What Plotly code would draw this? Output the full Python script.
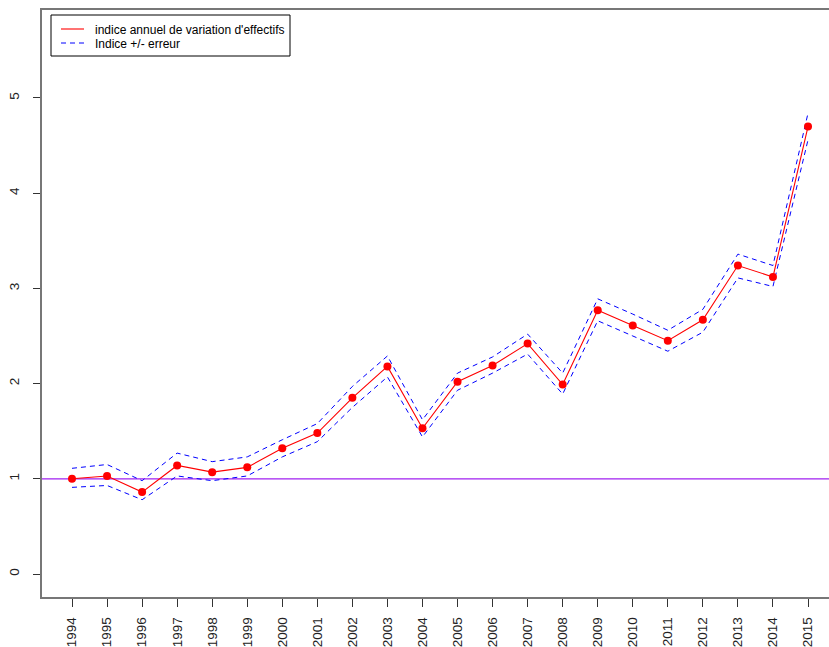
import plotly.graph_objects as go

years = list(range(1994, 2016))
indice = [1.00, 1.03, 0.86, 1.14, 1.07, 1.12, 1.32, 1.48, 1.85, 2.18, 1.53,
          2.02, 2.19, 2.42, 1.99, 2.77, 2.61, 2.45, 2.67, 3.24, 3.12, 4.70]
upper = [1.11, 1.15, 0.98, 1.27, 1.18, 1.23, 1.41, 1.58, 1.97, 2.29, 1.62,
         2.11, 2.28, 2.52, 2.11, 2.89, 2.73, 2.56, 2.78, 3.36, 3.24, 4.84]
lower = [0.91, 0.93, 0.78, 1.03, 0.98, 1.03, 1.23, 1.39, 1.75, 2.07, 1.44,
         1.93, 2.11, 2.31, 1.89, 2.66, 2.50, 2.34, 2.54, 3.11, 3.02, 4.56]
ref_level = 1
y_ticks = [0, 1, 2, 3, 4, 5]
x_labels = [str(y) for y in years]
legend_labels = ["indice annuel de variation d'effectifs", "Indice +/- erreur"]

W, H = 829, 647
ML, MR, MT, MB = 42, 0, 10, 50
PW, PH = W - ML - MR, H - MT - MB
DASH = "5px,4px"


def px(x):
    return (x - ML) / PW


def py(y):
    return 1 - (y - MT) / PH


fig = go.Figure()
fig.add_hline(y=ref_level, line=dict(color="#A020F0", width=1.2), layer="below")
fig.add_trace(go.Scatter(x=years, y=upper, mode="lines", showlegend=False,
                         line=dict(color="blue", width=1, dash=DASH)))
fig.add_trace(go.Scatter(x=years, y=lower, mode="lines", showlegend=False,
                         line=dict(color="blue", width=1, dash=DASH)))
fig.add_trace(go.Scatter(x=years, y=indice, mode="lines", showlegend=False,
                         line=dict(color="red", width=1.1)))
fig.add_trace(go.Scatter(x=years, y=indice, mode="markers", showlegend=False,
                         marker=dict(color="red", size=8)))

# manual legend (R style box)
row_y = [30, 44]
shapes = [
    dict(type="rect", xref="paper", yref="paper", x0=px(51), x1=px(290),
         y0=py(56), y1=py(15), line=dict(color="black", width=1),
         fillcolor="white"),
    dict(type="line", xref="paper", yref="paper", x0=px(61), x1=px(84),
         y0=py(row_y[0] - 1), y1=py(row_y[0] - 1),
         line=dict(color="red", width=1.1)),
    dict(type="line", xref="paper", yref="paper", x0=px(61), x1=px(84),
         y0=py(row_y[1] - 1), y1=py(row_y[1] - 1),
         line=dict(color="blue", width=1, dash=DASH)),
]
for s in shapes:
    fig.add_shape(**s)
for yy, lab in zip(row_y, legend_labels):
    fig.add_annotation(xref="paper", yref="paper", x=px(94), y=py(yy),
                       text=lab, showarrow=False, xanchor="left",
                       yanchor="middle", borderpad=0,
                       font=dict(size=12, color="black"))

fig.update_layout(
    width=W, height=H,
    margin=dict(l=ML, r=MR, t=MT, b=MB, autoexpand=False),
    plot_bgcolor="white", paper_bgcolor="white",
    font=dict(family="Liberation Sans, Arial, sans-serif", size=13.5, color="#222"),
    showlegend=False,
    xaxis=dict(range=[1993.144, 2015.599], tickmode="array", tickvals=years,
               ticktext=x_labels, tickangle=-90, ticks="outside", ticklen=8,
               tickcolor="#333", showgrid=False, zeroline=False,
               ticklabelstandoff=5,
               showline=True, linecolor="#777", linewidth=1.5, mirror=True),
    yaxis=dict(range=[-0.2416, 5.924], tickmode="array", tickvals=y_ticks,
               ticktext=[str(v) for v in y_ticks], tickangle=-90,
               ticks="outside", ticklen=7, tickcolor="#333",
               showgrid=False, zeroline=False, ticklabelstandoff=9,
               showline=True, linecolor="#777", linewidth=1.5),
)
fig.write_html("out.html", config={"displayModeBar": False},
               post_script="document.body.style.margin='0';")
